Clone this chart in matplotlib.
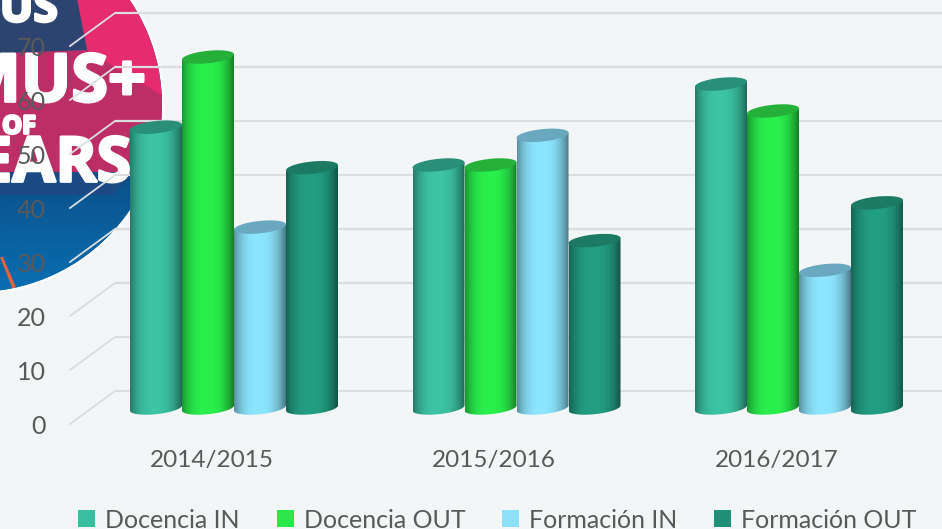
import matplotlib
matplotlib.use('Agg')
import matplotlib.pyplot as plt
import matplotlib.patheffects as pe
from matplotlib.colors import to_rgb
from matplotlib.patches import Circle, Patch, Polygon
import numpy as np

plt.rcParams['font.family'] = ['Lato', 'DejaVu Sans']

years = ['2014/2015', '2015/2016', '2016/2017']
series_names = ['Docencia IN', 'Docencia OUT', 'Formación IN', 'Formación OUT']
docencia_in = [52, 45, 60]
docencia_out = [65, 45, 55]
formacion_in = [33.5, 50.5, 25.5]
formacion_out = [44.5, 31, 38]
y_ticks = [0, 10, 20, 30, 40, 50, 60, 70]

body_colors = ['#3CC4A4', '#2AF04C', '#8CE6FF', '#229E82']
top_colors = ['#2A8F78', '#25B03A', '#6AA8C0', '#1C7A63']
text_color = '#595959'
grid_color = '#DADEDE'
bg_color = '#F2F6F6'

W, H = 942, 529
PX_X = 282.5   # pixels per category
PX_Y = 5.4     # pixels per value unit
BASE_X, BASE_Y = 234, 408
BAR_W = 52

fig = plt.figure(figsize=(W / 100, H / 100), dpi=100, facecolor=bg_color)

# logo behind the chart, in pixel coordinates
bg = fig.add_axes([0, 0, 1, 1])
bg.set_xlim(0, W)
bg.set_ylim(H, 0)
bg.axis('off')

halo = Circle((-25, 105), 190, fc='white', ec='none', alpha=0.6)
bg.add_patch(halo)
disc = Circle((-25, 105), 187, fc='#0A5F9C', ec='none')
bg.add_patch(disc)

blue = np.linspace(0, 1, 100)[:, None, None] * (np.array(to_rgb('#0A70B4')) - np.array(to_rgb('#0A4F88'))) + np.array(to_rgb('#0A4F88'))
im = bg.imshow(blue, extent=(-220, 170, 295, 170), aspect='auto', zorder=1)
im.set_clip_path(disc)

shapes = [
    ([(-50, -90), (170, -90), (170, 110), (87, 50)], '#E62C6E', 2),
    ([(-50, -90), (60, -90), (87, 50), (-50, 55)], '#2D4470', 2),
    ([(-50, 55), (87, 50), (170, 100), (170, 165), (135, 172), (-50, 172)], '#BE2E66', 2),
    ([(-50, 172), (135, 172), (112, 195), (-50, 195)], '#1B4A84', 2),
    ([(0, 257), (3, 257), (17, 290), (13, 290)], '#E8603C', 3),
]
for pts, col, z in shapes:
    p = Polygon(pts, closed=True, fc=col, ec='none', zorder=z)
    bg.add_patch(p)
    p.set_clip_path(disc)

logo_words = [('MUS', 58, 10, 32), ('MUS+', 146, 84, 48), ('OF', 36, 127, 18), ('EARS', 131, 165, 45)]
for word, x, y, size in logo_words:
    t = bg.text(x, y, word, color='white', fontsize=size, fontweight='bold',
                family='Open Sans', ha='right', va='center', zorder=4)
    t.set_path_effects([pe.withStroke(linewidth=2, foreground='white')])
    t.set_clip_path(disc)

# the chart itself
ax = fig.add_axes([0, 0, 1, 1])
ax.patch.set_visible(False)
ax.axis('off')
x_lim = ((0 - BASE_X) / PX_X, (W - BASE_X) / PX_X)
y_lim = ((BASE_Y - H) / PX_Y, BASE_Y / PX_Y)
front = 16 / PX_Y
back = 17 / PX_Y
x_back = (115 - BASE_X) / PX_X
x_front = (70 - BASE_X) / PX_X

ax.hlines(np.array(y_ticks) + back, x_back, x_lim[1], color=grid_color, lw=1.6, zorder=1)
for v in y_ticks:
    ax.plot([x_front, x_back], [v - front, v + back], color=grid_color, lw=1.3, zorder=1)
    ax.text((46 - BASE_X) / PX_X, v - front - 3 / PX_Y, str(v), ha='right', va='center',
            fontsize=18, color=text_color, zorder=1)


def cylinder(xc, value, body, top, z):
    half = BAR_W / 2 / PX_X
    t = np.linspace(0, np.pi, 40)
    ex = np.cos(t)
    b = 6.2 / PX_Y
    tilt = 2.6 / PX_Y
    # front half of the base, then straight up to the top rim
    lower_x = xc + half * ex[::-1]
    lower_y = -b * np.sin(t) + tilt * ex[::-1]
    outline = np.column_stack([lower_x, lower_y])
    outline = np.vstack([outline, [xc + half, value + tilt], [xc - half, value - tilt]])
    clip = Polygon(outline, closed=True, transform=ax.transData, fc='none', ec='none')
    ax.add_patch(clip)
    u = np.linspace(-1, 1, 80)
    shade = 1 - 0.42 * np.abs(u + 0.05) ** 2.6
    img = np.clip(np.outer(shade, to_rgb(body)), 0, 1)[None, :, :]
    im = ax.imshow(img, extent=(xc - half, xc + half, -3, value + 3), aspect='auto', zorder=z)
    im.set_clip_path(clip)
    tt = np.linspace(0, 2 * np.pi, 80)
    cap = np.column_stack([xc + half * np.cos(tt), value + b * np.sin(tt) + tilt * np.cos(tt)])
    ax.add_patch(Polygon(cap, closed=True, fc=top, ec='none', zorder=z + 0.1))


all_series = [docencia_in, docencia_out, formacion_in, formacion_out]
bar_step = BAR_W / PX_X
for i in range(len(years)):
    for s, values in enumerate(all_series):
        xc = i + (s - 1.5) * bar_step
        cylinder(xc, values[i], body_colors[s], top_colors[s], 5 + s)

ax.set_xlim(x_lim)
ax.set_ylim(y_lim)

for i, year in enumerate(years):
    ax.text(i - 0.08, (BASE_Y - 461) / PX_Y, year, ha='center', va='center',
            fontsize=17.5, color=text_color)

handles = [Patch(fc=c, ec='none', label=n) for c, n in zip(['#3CBFA0', '#2AE84C', '#8CE0F8', '#1F9078'], series_names)]
ax.legend(handles=handles, ncol=4, loc='center', bbox_to_anchor=(0.528, 0.017),
          frameon=False, fontsize=18, labelcolor=text_color, handlelength=0.68,
          handleheight=0.68, handletextpad=0.4, columnspacing=1.47, borderpad=0, borderaxespad=0)

fig.savefig('out.png', dpi=100, facecolor=bg_color)
